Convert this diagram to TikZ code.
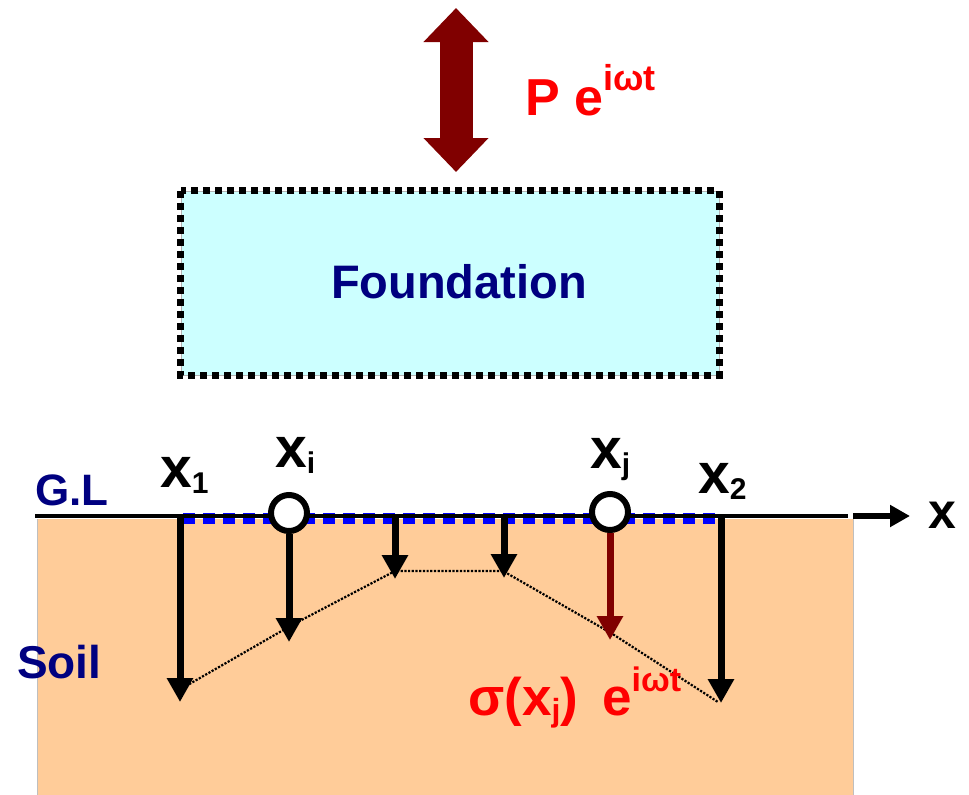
\documentclass[tikz,border=0pt]{standalone}
\usepackage{fontspec}
\setmainfont{Liberation Sans}
\usepackage{xcolor}
\usetikzlibrary{arrows.meta,positioning,calc}
\definecolor{maroonA}{RGB}{128,0,0}
\definecolor{navyA}{RGB}{0,0,128}
\definecolor{cyanA}{RGB}{204,255,255}
\definecolor{soilA}{RGB}{255,204,153}
\newcommand{\fsz}[1]{\fontsize{#1}{#1}\selectfont}
\newcommand{\xsub}[1]{x\raisebox{-6pt}{\fsz{30}#1}}
\newcommand{\expwt}[2]{e\raisebox{#1}{\fsz{#2}iωt}}

\begin{document}
\begin{tikzpicture}[x=1pt,y=-1pt,font=\bfseries,
  lbl/.style={anchor=base west,inner sep=0pt},
  load/.style={line width=7pt,-{Triangle[length=24pt,width=25pt]}},
  pt/.style={circle,draw,fill=white,line width=6pt,minimum size=36pt,inner sep=0pt}]
\useasboundingbox (0,0) rectangle (969,795);
% harmonic load on the footing
\draw[maroonA,line width=33pt,{Triangle[length=34pt,width=63pt]}-{Triangle[length=34pt,width=63pt]}] (456,8) coordinate (ptop) -- (456,172) coordinate (pbot);
\node[lbl,text=red,font=\bfseries\fsz{52}] (pload) at (525,115) {P \expwt{25pt}{36}};
% footing
\node[draw=gray!60,fill=cyanA,minimum width=538pt,minimum height=184pt,inner sep=0pt] (found) at (450,283) {};
\draw[line width=7pt,dash pattern=on 7pt off 5pt] (found.north west) rectangle (found.south east);
\node[text=navyA,font=\bfseries\fsz{47}] (foundlbl) at (459,282) {Foundation};
% soil half-space
\fill[soilA] (37,519) rectangle (853,795);
\draw[gray!50] (37,519) -- (37,795) (853,519) -- (853,795);
\draw[blue,line width=11pt,dash pattern=on 12pt off 8pt] (183,518) coordinate (cx1) -- (720,518) coordinate (cx2);
\draw[line width=4pt] (35,516) coordinate (gl0) -- (848,516) coordinate (gl1);
\draw[line width=6pt,-{Triangle[length=20pt,width=21pt]}] (853,516) coordinate (ax0) -- (910,516) coordinate (ax1);
\node[lbl,font=\bfseries\fsz{50}] (xaxis) at (928,528) {x};
\node[lbl,text=navyA,font=\bfseries\fsz{44}] (gl) at (35,505) {G.L};
\node[lbl,text=navyA,font=\bfseries\fsz{46}] (soil) at (17,678) {Soil};
% stress profile
\draw[line width=2.2pt,dash pattern=on 2.2pt off 1.5pt] (186,686) coordinate (c1) -- (292,625) coordinate (c2) -- (395,571) coordinate (c3) -- (503,571) coordinate (c4) -- (611,633) coordinate (c5) -- (718,702) coordinate (c6);
\node[pt] (xi) at (289,513) {};
\node[pt] (xj) at (610,512) {};
\draw[load] (180,518) -- (180,702) coordinate (t1);
\draw[load] (xi.south) -- (289,642) coordinate (ti);
\draw[load] (395,518) -- (395,579) coordinate (t3);
\draw[load] (504,518) -- (504,578) coordinate (t4);
\draw[load,maroonA] (xj.south) -- (610,640) coordinate (tj);
\draw[load] (721,518) -- (721,703) coordinate (t2);
% point labels
\node[lbl,font=\bfseries\fsz{57}] (lx1) at (160,487) {\xsub{1}};
\node[lbl,font=\bfseries\fsz{57}] (lxi) at (275,467) {\xsub{i}};
\node[lbl,font=\bfseries\fsz{57}] (lxj) at (590,468) {\xsub{j}};
\node[lbl,font=\bfseries\fsz{57}] (lx2) at (698,493) {\xsub{2}};
\node[lbl,text=red,font=\bfseries\fsz{53}] (stress) at (468,715) {σ(x\raisebox{-6pt}{\fsz{32}j})\hspace{24pt}\expwt{24pt}{34}};
\end{tikzpicture}
\end{document}
